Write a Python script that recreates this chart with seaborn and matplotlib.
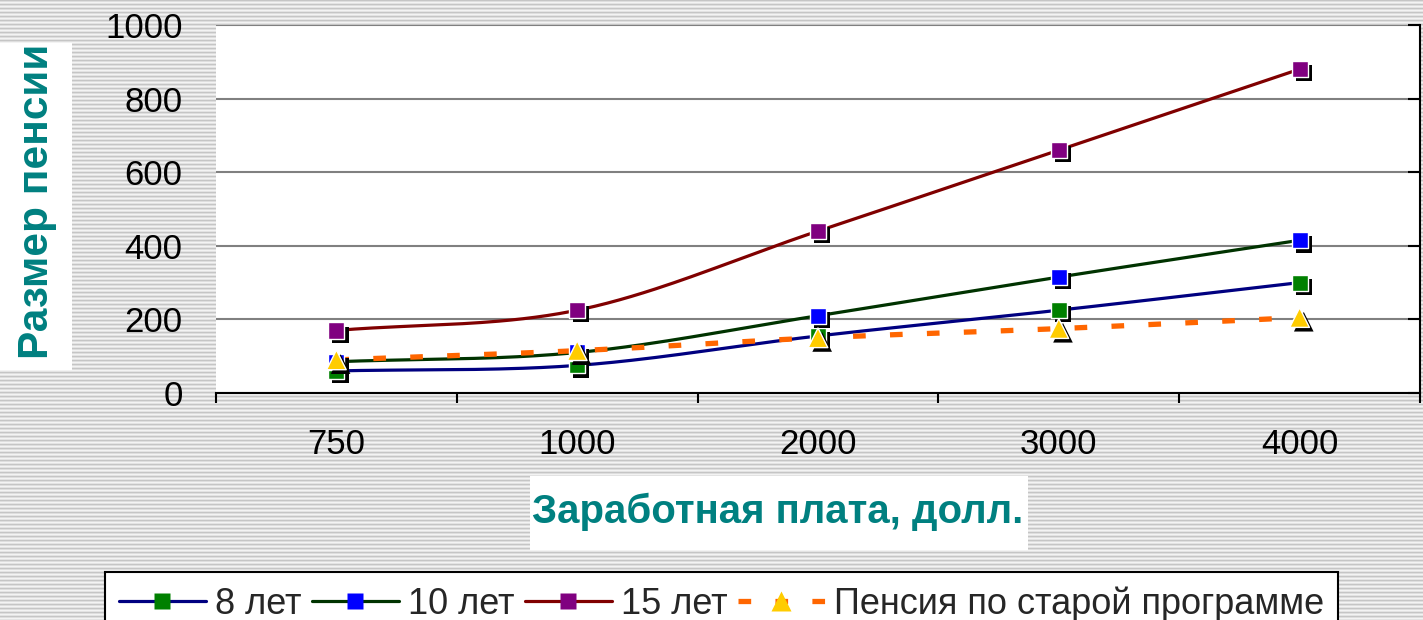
import numpy as np
import matplotlib
matplotlib.use("Agg")
import matplotlib.pyplot as plt
import matplotlib.patheffects as pe
from matplotlib.lines import Line2D
from matplotlib.patches import Rectangle
import seaborn as sns

# data
salary = ["750", "1000", "2000", "3000", "4000"]
years_8 = [60, 75, 155, 225, 300]
years_10 = [85, 110, 210, 315, 415]
years_15 = [170, 225, 440, 660, 880]
old_pension = [90, 115, 150, 175, 205]
series_names = ["8 лет", "10 лет", "15 лет", "Пенсия по старой программе"]
y_ticks = [0, 200, 400, 600, 800, 1000]

line_colors = ["#000080", "#003300", "#800000", "#ff6600"]
marker_colors = ["#008000", "#0000ff", "#800080", "#ffcc00"]
markers = ["s", "s", "s", "^"]
line_styles = ["-", "-", "-", (0, (2.4, 4.6))]
line_widths = [2.3, 2.3, 2.3, 3.8]

sns.set_theme(style="white")
plt.rcParams["font.family"] = ["Liberation Sans", "DejaVu Sans"]

teal = "#008080"


def smooth(vals, n=40):
    # catmull-rom through the points, end tangents follow the end segments
    p = np.asarray(vals, float)
    m = np.empty_like(p)
    m[1:-1] = (p[2:] - p[:-2]) / 2
    m[0] = p[1] - p[0]
    m[-1] = p[-1] - p[-2]
    xs, ys = [], []
    for i in range(len(p) - 1):
        t = np.linspace(0, 1, n, endpoint=(i == len(p) - 2))
        h00 = 2 * t ** 3 - 3 * t ** 2 + 1
        h10 = t ** 3 - 2 * t ** 2 + t
        h01 = -2 * t ** 3 + 3 * t ** 2
        h11 = t ** 3 - t ** 2
        xs.append(i + t)
        ys.append(h00 * p[i] + h10 * m[i] + h01 * p[i + 1] + h11 * m[i + 1])
    return np.concatenate(xs), np.concatenate(ys)


fig = plt.figure(figsize=(14.23, 6.2), dpi=100)
fig.patch.set_facecolor("white")

# striped background
bg = fig.add_axes([0, 0, 1, 1], zorder=-10)
stripes = np.tile([0.77, 0.87, 0.95, 0.89], 155)[:, None]
bg.imshow(stripes, aspect="auto", cmap="gray", vmin=0, vmax=1, interpolation="nearest")
bg.axis("off")

ax = fig.add_axes([216 / 1423, 1 - 393 / 620, (1420 - 216) / 1423, (393 - 25) / 620])
ax.set_facecolor("white")

all_series = [years_8, years_10, years_15, old_pension]
x_idx = np.arange(len(salary))

for vals, lc, ls, lw in zip(all_series, line_colors, line_styles, line_widths):
    sx, sy = smooth(vals)
    sns.lineplot(x=sx, y=sy, color=lc, linewidth=lw, linestyle=ls, sort=False,
                 ax=ax, zorder=2)

shadow = [pe.SimplePatchShadow(offset=(3, -3), shadow_rgbFace="black", alpha=1.0), pe.Normal()]
for vals, mc, mk in zip(all_series, marker_colors, markers):
    sns.scatterplot(x=x_idx, y=vals, marker=mk, s=135 if mk == "s" else 200,
                    color=mc, edgecolor="white", linewidth=1, ax=ax, zorder=3)
    ax.collections[-1].set_path_effects(shadow)

ax.set_xlim(-0.5, 4.5)
ax.set_ylim(0, 1000)
ax.set_yticks(y_ticks)
ax.set_yticklabels([str(v) for v in y_ticks], fontsize=25, color="black")
ax.set_xticks(np.arange(-0.5, 5, 1))
ax.set_xticklabels([])
ax.set_xticks(x_idx, minor=True)
ax.set_xticklabels(salary, minor=True, fontsize=25, color="black")
ax.tick_params(axis="x", which="major", bottom=True, direction="out", length=7,
               width=1.5, color="black")
ax.tick_params(axis="x", which="minor", bottom=True, length=0, pad=25.5)
ax.tick_params(axis="y", left=False, right=True, direction="in", length=8.5,
               width=1.5, color="black", pad=24, labelright=False)

ax.yaxis.grid(True, color="#808080", linewidth=1.5)
ax.xaxis.grid(False)
for side in ["top", "left"]:
    ax.spines[side].set_visible(False)
for side in ["bottom", "right"]:
    ax.spines[side].set_visible(True)
    ax.spines[side].set_color("black")
    ax.spines[side].set_linewidth(1.5)
ax.set_xlabel("")
ax.set_ylabel("")

# axis titles on white boxes
fig.add_artist(Rectangle((0, 1 - 370 / 620), 72 / 1423, (370 - 43) / 620,
                         transform=fig.transFigure, facecolor="white", edgecolor="none"))
fig.text(37 / 1423, 1 - 201 / 620, "Размер пенсии", rotation=90, ha="center",
         va="center", fontsize=30.5, fontweight="bold", color=teal)

fig.add_artist(Rectangle((530 / 1423, 1 - 550 / 620), (1028 - 530) / 1423, (550 - 476) / 620,
                         transform=fig.transFigure, facecolor="white", edgecolor="none"))
fig.text(778 / 1423, 1 - 512 / 620, "Заработная плата, долл.", ha="center",
         va="center", fontsize=29, fontweight="bold", color=teal)

handles = []
for lc, mc, mk, ls, lw in zip(line_colors, marker_colors, markers, line_styles, line_widths):
    handles.append(Line2D([], [], color=lc, linestyle=ls, linewidth=lw, marker=mk,
                          markersize=11 if mk == "s" else 14, markerfacecolor=mc,
                          markeredgecolor="none"))
leg = fig.legend(handles, series_names, loc="upper center", ncol=4,
                 bbox_to_anchor=(0.507, 1 - 572 / 620), fontsize=26,
                 handlelength=2.4, handletextpad=0.25, columnspacing=0.3,
                 frameon=True, fancybox=False, edgecolor="black", framealpha=1,
                 borderpad=0.4, borderaxespad=0)
leg.get_frame().set_linewidth(1.5)

fig.savefig("out.png", dpi=100)
